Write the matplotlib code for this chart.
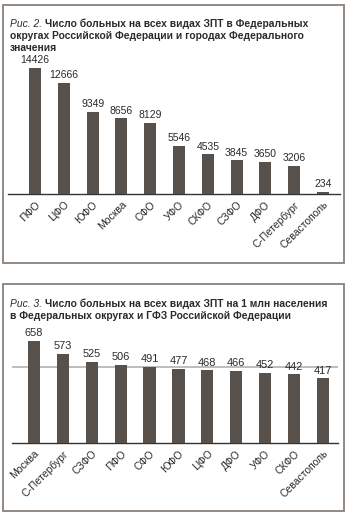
import matplotlib
matplotlib.use("Agg")
import matplotlib.pyplot as plt
from matplotlib.patches import Rectangle

plt.rcParams['font.family'] = ['Liberation Sans', 'DejaVu Sans']

W, H = 350, 516

# Рис. 2 — абсолютное число больных
regions_abs = ["ПФО", "ЦФО", "ЮФО", "Москва", "СФО", "УФО", "СКФО", "СЗФО",
               "ДФО", "С-Петербург", "Севастополь"]
values_abs = [14426, 12666, 9349, 8656, 8129, 5546, 4535, 3845, 3650, 3206, 234]

# Рис. 3 — на 1 млн населения
regions_pm = ["Москва", "С-Петербург", "СЗФО", "ПФО", "СФО", "ЮФО", "ЦФО", "ДФО",
              "УФО", "СКФО", "Севастополь"]
values_pm = [658, 573, 525, 506, 491, 477, 468, 466, 452, 442, 417]
avg_pm = 490

BAR = "#57504b"
FRAME = "#8a8178"
INK = "#2a2a2a"
GRID = "#b5b1ad"


def px_rect(x0, y0, x1, y1):
    # пиксели от верхнего левого угла -> доли фигуры
    return [x0 / W, 1 - y1 / H, (x1 - x0) / W, (y1 - y0) / H]


fig = plt.figure(figsize=(W / 100, H / 100), dpi=100)
renderer = fig.canvas.get_renderer()


def title(x, y_lines, italic, lines, fs=7.35):
    t = fig.text(x / W, 1 - y_lines[0] / H, italic, style="italic", fontsize=fs,
                 color=INK, va="baseline", ha="left")
    bb = t.get_window_extent(renderer)
    fig.text((bb.x1 + 3) / W, 1 - y_lines[0] / H, lines[0], fontweight="bold",
             fontsize=fs, color=INK, va="baseline", ha="left")
    for yy, s in zip(y_lines[1:], lines[1:]):
        fig.text(x / W, 1 - yy / H, s, fontweight="bold", fontsize=fs,
                 color=INK, va="baseline", ha="left")


def frame(x0, y0, x1, y1):
    fig.add_artist(Rectangle((x0 / W, 1 - y1 / H), (x1 - x0) / W, (y1 - y0) / H,
                             transform=fig.transFigure, fill=False,
                             edgecolor=FRAME, linewidth=1.3))


def bars(ax, cats, vals, ymax, xl, xr, vfs=7.5, lfs=7.5):
    x = range(len(cats))
    ax.bar(x, vals, width=0.42, color=BAR, zorder=3)
    for xi, v in zip(x, vals):
        ax.annotate(str(v), (xi, v), xytext=(0, 2), textcoords="offset points",
                    ha="center", va="bottom", fontsize=vfs, color=INK, zorder=4)
    ax.set_xlim(xl, xr)
    ax.set_ylim(0, ymax)
    ax.set_xticks(list(x))
    ax.set_xticklabels(cats, rotation=45, ha="right", rotation_mode="anchor",
                       fontsize=lfs, color=INK)
    ax.tick_params(axis="x", length=0, pad=4)
    ax.set_yticks([])
    for s in ["top", "left", "right"]:
        ax.spines[s].set_visible(False)
    ax.spines["bottom"].set_color("#333333")
    ax.spines["bottom"].set_linewidth(1.0)
    ax.patch.set_alpha(0)


# верхняя панель
frame(3, 5, 344, 263)
title(10, [27, 39, 51], "Рис. 2.",
      ["Число больных на всех видах ЗПТ в Федеральных",
       "округах Российской Федерации и городах Федерального",
       "значения"])
ax1 = fig.add_axes(px_rect(8, 55, 340, 194))
bars(ax1, regions_abs, values_abs, 15900, -0.94, 10.59)

# нижняя панель
frame(3, 284, 344, 511)
title(10, [307, 319], "Рис. 3.",
      ["Число больных на всех видах ЗПТ на 1 млн населения",
       "в Федеральных округах и ГФЗ Российской Федерации"])
ax2 = fig.add_axes(px_rect(12, 330, 338, 443))
ax2.axhline(avg_pm, color=GRID, linewidth=1.2, zorder=1)
bars(ax2, regions_pm, values_pm, 729, -0.76, 10.52, vfs=7.9)

fig.savefig("out.png", dpi=100, facecolor="white")
